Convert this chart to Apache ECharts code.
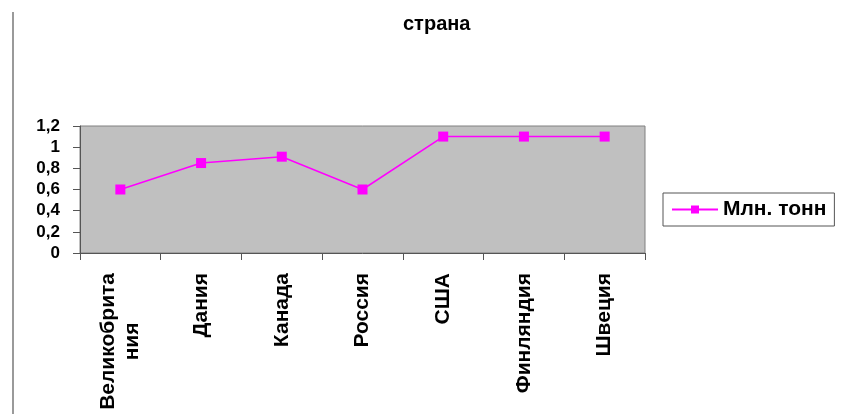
<!DOCTYPE html>
<html>
<head>
<meta charset="utf-8">
<script src="https://cdn.jsdelivr.net/npm/echarts@6/dist/echarts.min.js"></script>
<style>
  html, body { margin: 0; padding: 0; background: #fff; }
  #chart { width: 842px; height: 414px; }
</style>
</head>
<body>
<div id="chart"></div>
<script>
// 国家 - 类别
const countries = ['Великобрита\nния', 'Дания', 'Канада', 'Россия', 'США', 'Финляндия', 'Швеция'];

// 数值（млн. тонн）
const values = [0.6, 0.85, 0.91, 0.6, 1.1, 1.1, 1.1];

const seriesName = 'Млн. тонн';
const chartTitle = 'страна';

const font = 'Liberation Sans, Arial, sans-serif';

const chart = echarts.init(document.getElementById('chart'));

const option = {
    backgroundColor: '#fff',
    animation: false,
    title: {
        text: chartTitle,
        left: 398,
        top: 9,
        textStyle: { fontFamily: font, fontSize: 20, fontWeight: 'bold', color: '#000' }
    },
    // 左侧框线
    graphic: [
        {
            type: 'line',
            shape: { x1: 13, y1: 12, x2: 13, y2: 414 },
            style: { stroke: '#9a9a9a', lineWidth: 2 }
        }
    ],
    legend: {
        left: 663,
        top: 193,
        padding: [6, 8, 6, 8],
        borderColor: '#555',
        borderWidth: 1,
        itemWidth: 46,
        itemHeight: 10,
        data: [seriesName],
        textStyle: { fontFamily: font, fontSize: 21, fontWeight: 'bold', color: '#000' }
    },
    grid: {
        left: 80,
        right: 197,
        top: 126,
        bottom: 161,
        show: true,
        backgroundColor: '#c0c0c0',
        borderColor: '#808080',
        borderWidth: 1
    },
    xAxis: {
        type: 'category',
        data: countries,
        boundaryGap: true,
        axisLine: { lineStyle: { color: '#555', width: 1 } },
        axisTick: { show: true, length: 7, lineStyle: { color: '#555' } },
        axisLabel: {
            rotate: 90,
            margin: 20,
            interval: 0,
            formatter: function (v) {
                return v.split('\n').map(s => '{w|' + s + '}').join('\n');
            },
            rich: {
                w: {
                    align: 'center',
                    fontFamily: font,
                    fontSize: 21,
                    fontWeight: 'bold',
                    color: '#000',
                    lineHeight: 24
                }
            }
        },
        splitLine: { show: false }
    },
    yAxis: {
        type: 'value',
        min: 0,
        max: 1.2,
        interval: 0.2,
        axisLine: { show: true, lineStyle: { color: '#555', width: 1 } },
        axisTick: { show: true, length: 7, lineStyle: { color: '#555' } },
        axisLabel: {
            margin: 20,
            fontFamily: font,
            fontSize: 17,
            fontWeight: 'bold',
            color: '#000',
            formatter: function (v) {
                return String(parseFloat(v.toFixed(1))).replace('.', ',');
            }
        },
        splitLine: { show: false }
    },
    series: [
        {
            name: seriesName,
            type: 'line',
            data: values,
            symbol: 'rect',
            symbolSize: 10,
            lineStyle: { color: '#ff00ff', width: 1.5 },
            itemStyle: { color: '#ff00ff' }
        }
    ]
};

chart.setOption(option);
</script>
</body>
</html>
